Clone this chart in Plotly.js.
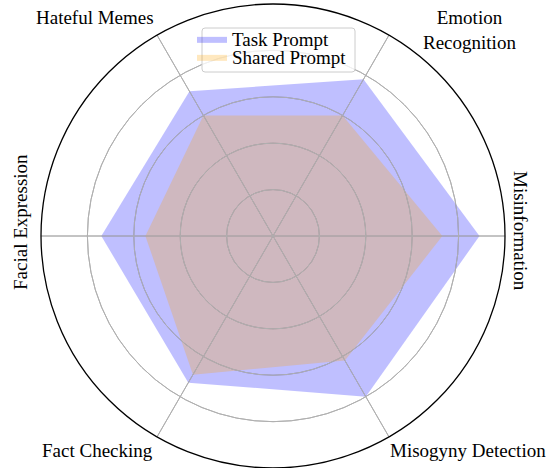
<!DOCTYPE html>
<html>
<head>
<meta charset="utf-8">
<script src="https://cdn.plot.ly/plotly-3.0.1.min.js"></script>
<style>
  html, body { margin: 0; padding: 0; background: #ffffff; }
  #chart { width: 550px; height: 468px; }
</style>
</head>
<body>
<div id="chart"></div>
<script>
// ---- data ----
const categories = ["Misinformation", "Emotion Recognition", "Hateful Memes",
                    "Facial Expression", "Fact Checking", "Misogyny Detection"];
const categoryLabels = ["Misinformation", "Emotion<br>Recognition", "Hateful Memes",
                        "Facial Expression", "Fact Checking", "Misogyny Detection"];
const taskPrompt   = [0.89, 0.78, 0.72, 0.74, 0.73, 0.80];
const sharedPrompt = [0.73, 0.60, 0.60, 0.55, 0.69, 0.62];
const seriesNames  = ["Task Prompt", "Shared Prompt"];
const radialTicks  = [0.2, 0.4, 0.6, 0.8];

// ---- layout geometry ----
const W = 550, H = 468;
const ML = 41, MR = 45, MT = 4, MB = 0;
const PW = W - ML - MR, PH = H - MT - MB;
const px2x = px => (px - ML) / PW;
const px2y = py => 1 - (py - MT) / PH;

const close = a => a.concat([a[0]]);
const serif = "Liberation Serif, Times New Roman, Times, serif";

const traces = [
  {
    type: "scatterpolar", name: seriesNames[0], subplot: "polar",
    r: close(taskPrompt), theta: close(categories),
    mode: "lines", fill: "toself",
    fillcolor: "rgba(0,0,255,0.25)",
    line: {color: "rgba(0,0,255,0)", width: 0},
    legend: "legend", hoverinfo: "skip"
  },
  {
    type: "scatterpolar", name: seriesNames[1], subplot: "polar",
    r: close(sharedPrompt), theta: close(categories),
    mode: "lines", fill: "toself",
    fillcolor: "rgba(255,165,0,0.25)",
    line: {color: "rgba(255,165,0,0)", width: 0},
    legend: "legend2", hoverinfo: "skip"
  },
  // transparent copy on an overlay subplot so the grid is drawn above the fills
  {
    type: "scatterpolar", name: seriesNames[0], subplot: "polar2",
    r: close(taskPrompt), theta: close(categories),
    mode: "lines", line: {color: "rgba(0,0,0,0)", width: 0},
    showlegend: false, hoverinfo: "skip"
  }
];

// label anchor positions (pixel centres)
const labelPos = [
  {x: 521, y: 231, a: 90},
  {x: 469, y: 30, a: 0},
  {x: 95, y: 17, a: 0},
  {x: 20, y: 222, a: -90},
  {x: 97, y: 450, a: 0},
  {x: 468, y: 450, a: 0}
];

const annotations = categoryLabels.map((t, i) => ({
  text: t, xref: "paper", yref: "paper",
  x: px2x(labelPos[i].x), y: px2y(labelPos[i].y),
  xanchor: "center", yanchor: "middle",
  textangle: labelPos[i].a, showarrow: false,
  font: {family: serif, size: 19, color: "#000"}
}));

// legend frame (rounded)
function roundRect(x0p, y0p, x1p, y1p, rp) {
  const x0 = px2x(x0p), x1 = px2x(x1p), y0 = px2y(y0p), y1 = px2y(y1p);
  const rx = rp / PW, ry = rp / PH;
  return `M${x0+rx},${y0} L${x1-rx},${y0} Q${x1},${y0} ${x1},${y0-ry} ` +
         `L${x1},${y1+ry} Q${x1},${y1} ${x1-rx},${y1} L${x0+rx},${y1} ` +
         `Q${x0},${y1} ${x0},${y1+ry} L${x0},${y0-ry} Q${x0},${y0} ${x0+rx},${y0} Z`;
}

const legendCommon = {
  xref: "container", yref: "container",
  xanchor: "left", yanchor: "middle",
  bgcolor: "rgba(0,0,0,0)", borderwidth: 0,
  font: {family: serif, size: 19, color: "#000"},
  itemclick: false, itemdoubleclick: false
};

function polarAxes(showOuter, bg) {
  return {
    domain: {x: [0, 1], y: [0, 1]},
    bgcolor: bg,
    radialaxis: {
      range: [0, 1], tickvals: radialTicks, showticklabels: false,
      ticks: "", showline: false, gridcolor: "#b0b0b0", gridwidth: 1
    },
    angularaxis: {
      type: "category", categoryarray: categories,
      rotation: 0, direction: "counterclockwise",
      showticklabels: false, ticks: "",
      showline: showOuter, linecolor: "#000", linewidth: 1.3,
      gridcolor: "#b0b0b0", gridwidth: 1
    }
  };
}

const layout = {
  width: W, height: H,
  margin: {l: ML, r: MR, t: MT, b: MB, pad: 0, autoexpand: false},
  paper_bgcolor: "#ffffff",
  showlegend: true,
  legend: Object.assign({x: 192 / W, y: 1 - 39 / H}, legendCommon),
  legend2: Object.assign({x: 192 / W, y: 1 - 57 / H}, legendCommon),
  polar: polarAxes(false, "#ffffff"),
  polar2: polarAxes(true, "rgba(0,0,0,0)"),
  shapes: [{
    type: "path", xref: "paper", yref: "paper",
    path: roundRect(202, 28, 355, 72, 3),
    fillcolor: "rgba(255,255,255,0.8)",
    line: {color: "#cccccc", width: 1},
    layer: "above"
  }],
  annotations: annotations
};

Plotly.newPlot("chart", traces, layout, {staticPlot: true});
</script>
</body>
</html>
